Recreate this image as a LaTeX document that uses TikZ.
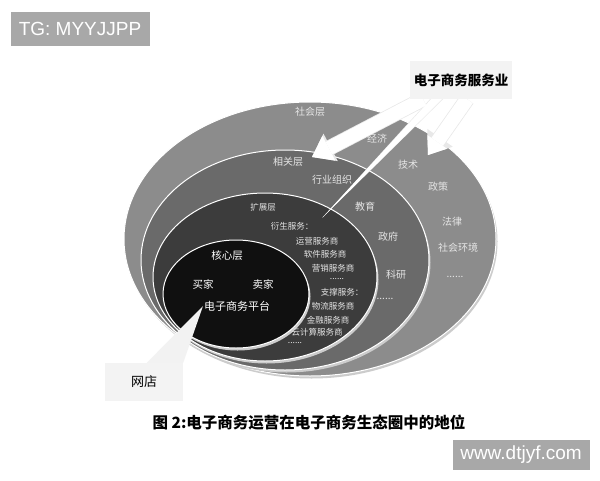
\documentclass[tikz,border=0pt]{standalone}
\usepackage{fontspec}
\setmainfont{Noto Sans CJK SC}
\newfontfamily\wmfont{Liberation Sans}
\usepackage{xcolor}
\definecolor{socgray}{RGB}{140,140,140}
\definecolor{relgray}{RGB}{106,106,106}
\definecolor{extgray}{RGB}{60,60,60}
\definecolor{coregray}{RGB}{16,16,16}
\definecolor{boxgray}{RGB}{243,243,243}
\definecolor{wmgray}{RGB}{168,168,168}
\newcommand{\moredots}{......}
\usetikzlibrary{arrows.meta}

\begin{document}
\begin{tikzpicture}[x=1pt,y=-1pt,
  lbl/.style={text=white!90!black, inner sep=0pt, font=\fontsize{10}{10}\selectfont},
  small/.style={lbl, font=\fontsize{8.5}{8.5}\selectfont},
  wmbox/.style={fill=wmgray, text=white, inner sep=0pt, font=\wmfont\fontsize{19}{19}\selectfont},
  bigarrow/.style={white, line width=14pt, -{Triangle[length=19pt,width=28pt,line width=0pt]}},
  arrowrim/.style={black!9, line width=15.5pt, -{Triangle[length=21pt,width=31pt,line width=0pt]}}
]

% Canvas
\useasboundingbox[fill=white] (0,0) rectangle (600,480);

% Watermarks
\node[wmbox, minimum width=139, minimum height=34] (tg) at (80,29) {TG: MYYJJPP};
\node[wmbox, minimum width=137, minimum height=30] (site) at (521,455) {www.dtjyf.com};

% Nested layers of the ecosystem (outer to inner)
\foreach \cx/\cy/\rx/\ry/\col in {310/239/186/137/socgray, 285/260/144/110/relgray, 265/277/112/84/extgray, 236/294/73/54/coregray} {
  \fill[black!20] (\cx+1.5,\cy+2.5) ellipse [x radius=\rx, y radius=\ry];
  \fill[\col, draw=white, line width=1pt] (\cx,\cy) ellipse [x radius=\rx, y radius=\ry];
}

% Social layer
\foreach \n/\x/\y/\t in {soc/310/112/社会层, econ/377/139/经济, tech/408/165/技术, policy/438/187/政策, law/452/222/法律, env/458/248/社会环境, socdots/455/277/\moredots}
  \node[lbl] (\n) at (\x,\y) {\t};

% Related layer
\foreach \n/\x/\y/\t in {rel/288/162/相关层, ind/332/180/行业组织, edu/365/207/教育, gov/388/237/政府, res/396/275/科研, reldots/385/299/\moredots}
  \node[lbl] (\n) at (\x,\y) {\t};

% Extended layer
\foreach \n/\x/\y/\t in {ext/263/207/扩展层, deriv/292/226/衍生服务：, op/317/241/运营服务商, soft/325/254/软件服务商, mkt/333/268/营销服务商, derivdots/337/279/\moredots, supp/342/292/支撑服务：, logi/333/306/物流服务商, fin/328/320/金融服务商, cloud/317/332/云计算服务商, suppdots/295/343/\moredots}
  \node[small] (\n) at (\x,\y) {\t};

% Core layer
\node[lbl, text=white, font=\fontsize{10.5}{10.5}\selectfont] (core) at (227,256) {核心层};
\node[lbl, text=white, font=\fontsize{10.5}{10.5}\selectfont] (buyer) at (203,284) {买家};
\node[lbl, text=white, font=\fontsize{10.5}{10.5}\selectfont] (seller) at (263,284) {卖家};
\node[lbl, text=white, font=\fontsize{11}{11}\selectfont] (plat) at (237,306) {电子商务平台};

% E-commerce service industry and its arrows
\node[fill=boxgray, minimum width=102, minimum height=38, font=\bfseries\fontsize{13.5}{13.5}\selectfont] (svc) at (461,80) {电子商务服务业};
\coordinate (relTip) at (312,157);
\coordinate (techTip) at (428,155);
\coordinate (derivTip) at (323,217);
\draw[arrowrim] ([xshift=-38pt]svc.south) -- (relTip);
\draw[arrowrim] ([xshift=6pt]svc.south) -- (techTip);
\fill[black!9] ([xshift=-31pt]svc.south) -- (derivTip) -- ([xshift=-18pt]svc.south) -- cycle;
\draw[bigarrow] ([xshift=-38pt]svc.south) -- (relTip);
\draw[bigarrow, -{Triangle[length=16pt,width=24pt,line width=0pt]}] ([xshift=6pt]svc.south) -- (techTip);
\fill[white] ([xshift=-30pt]svc.south) -- ([shift={(-0.6,0.6)}]derivTip) -- ([xshift=-19pt]svc.south) -- cycle;
\node[fill=boxgray, minimum width=102, minimum height=38, font=\bfseries\fontsize{13.5}{13.5}\selectfont] at (svc) {电子商务服务业};

% Online shop
\node[fill=boxgray, minimum width=78, minimum height=38, font=\fontsize{13}{13}\selectfont] (shop) at (144,382) {网店};
\coordinate (shopTip) at (203,306);
\fill[white!95!black] ([xshift=42pt]shop.north west) -- (shopTip) -- (shop.north east) -- cycle;

% Caption
\node[font=\bfseries\fontsize{15.5}{15.5}\selectfont] (cap) at (309,423) {图 2:电子商务运营在电子商务生态圈中的地位};

\end{tikzpicture}
\end{document}
